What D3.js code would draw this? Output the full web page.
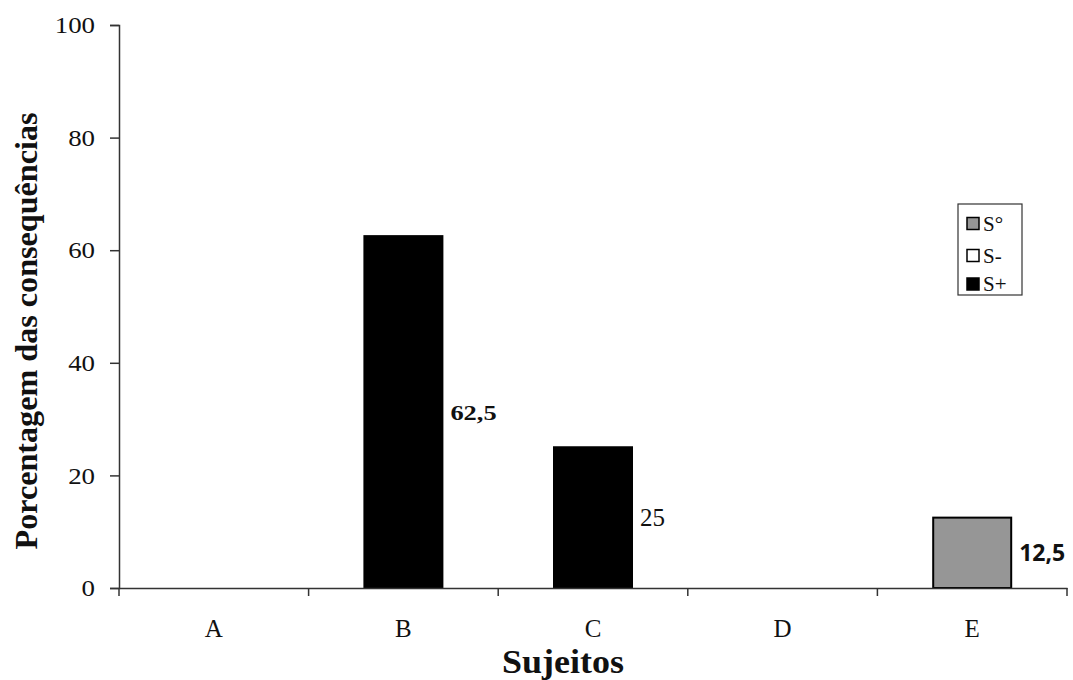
<!DOCTYPE html>
<html><head><meta charset="utf-8">
<script src="https://cdn.jsdelivr.net/npm/d3@7"></script>
<style>body{margin:0;background:#fff}svg{display:block}</style>
</head><body>
<svg id="c" width="1073" height="680"></svg>
<script>
const categories = ["A","B","C","D","E"];
const seriesNames = ["S+","S-","S°"];
const sPlus = [0, 62.5, 25, 0, 0];
const sMinus = [0, 0, 0, 0, 0];
const sZero = [0, 0, 0, 0, 12.5];
const yTicks = [0, 20, 40, 60, 80, 100];
const barLabels = ["", "62,5", "25", "", "12,5"];
const barLabelValues = [0, 62.5, 25, 0, 12.5];
const legendItems = ["S°","S-","S+"];

const svg = d3.select("#c");
const m = {l:119, r:1067, t:25, b:588};
const x = d3.scaleBand().domain(categories).range([m.l, m.r]).paddingInner(0).paddingOuter(0);
const y = d3.scaleLinear().domain([0,100]).range([m.b, m.t]);
const fill = {"S+":"#000000","S-":"#ffffff","S°":"#969696"};
const serif = "'Liberation Serif', 'Times New Roman', serif";
const sans = "'Open Sans', 'DejaVu Sans', sans-serif";
function stretch(sel, k){ sel.each(function(){ const w=this.getComputedTextLength(); d3.select(this).attr("textLength", w*k).attr("lengthAdjust","spacingAndGlyphs"); }); }

const rows = categories.map((c,i)=>({cat:c,"S+":sPlus[i],"S-":sMinus[i],"S°":sZero[i]}));
const stack = d3.stack().keys(seriesNames)(rows);

const bw = 78;
stack.forEach(layer=>{
  svg.append("g").selectAll("rect").data(layer.filter(d=>d[1]-d[0]>0)).join("rect")
    .attr("x", d=>x(d.data.cat)+x.bandwidth()/2-bw/2)
    .attr("y", d=>y(d[1]))
    .attr("width", bw)
    .attr("height", d=>y(d[0])-y(d[1]))
    .attr("fill", fill[layer.key])
    .attr("stroke","#000").attr("stroke-width",2);
});

// axes
const yAx = svg.append("g").attr("transform",`translate(${m.l},0)`)
  .call(d3.axisLeft(y).tickValues(yTicks).tickSize(9).tickPadding(15));
yAx.attr("font-family", null);
yAx.select(".domain").attr("stroke","#333").attr("stroke-width",1.5);
yAx.selectAll(".tick line").attr("stroke","#333").attr("stroke-width",1.5);
yAx.selectAll("text").style("font-family",serif).style("font-size","24px").attr("fill","#111");
stretch(yAx.selectAll("text"), 1.12);

const xAx = svg.append("g").attr("transform",`translate(0,${m.b})`)
  .call(d3.axisBottom(x).tickSize(0).tickPadding(31));
xAx.attr("font-family", null);
xAx.select(".domain").attr("stroke","#333").attr("stroke-width",1.5);
xAx.selectAll("text").style("font-family",serif).style("font-size","25px").attr("fill","#111");
const bounds = categories.map(c=>x(c)).concat([m.r]);
svg.append("g").selectAll("line").data(bounds).join("line")
  .attr("x1",d=>d).attr("x2",d=>d).attr("y1",m.b).attr("y2",m.b+8)
  .attr("stroke","#333").attr("stroke-width",1.5);

// bar value labels
const labStyle = [null,
  {w:"bold", f:serif, s:22, k:1.2},
  {w:"normal", f:serif, s:25, k:1.0},
  null,
  {w:"bold", f:sans, s:23, k:1.0}];
const lab = svg.append("g").selectAll("text")
  .data(categories.map((c,i)=>({c,i})).filter(d=>barLabels[d.i]!=="")).join("text")
  .attr("x", d=>x(d.c)+x.bandwidth()/2+bw/2+8)
  .attr("y", d=>y(barLabelValues[d.i]/2))
  .attr("dy","0.35em")
  .style("font-family", d=>labStyle[d.i].f)
  .style("font-weight", d=>labStyle[d.i].w)
  .style("font-size", d=>labStyle[d.i].s+"px")
  .attr("fill","#111")
  .text(d=>barLabels[d.i]);
lab.each(function(d){ const k=labStyle[d.i].k; if(k!==1){ stretch(d3.select(this),k);} });

// titles
svg.append("text").attr("x",563).attr("y",673).attr("text-anchor","middle")
  .style("font-family",serif).style("font-weight","bold").style("font-size","33px").attr("fill","#111")
  .attr("textLength",122).attr("lengthAdjust","spacingAndGlyphs").text("Sujeitos");
svg.append("text").attr("transform",`translate(37,331) rotate(-90)`)
  .attr("text-anchor","middle").style("font-family",serif).style("font-weight","bold").style("font-size","32px").attr("fill","#111")
  .attr("textLength",437).attr("lengthAdjust","spacingAndGlyphs")
  .text("Porcentagem das consequências");

// legend
const legY = [223.5, 255.5, 284];
const lg = svg.append("g");
lg.append("rect").attr("x",958).attr("y",204).attr("width",64).attr("height",91)
  .attr("fill","#fff").attr("stroke","#333").attr("stroke-width",1.2);
legendItems.forEach((k,i)=>{
  const cy = legY[i];
  lg.append("rect").attr("x",967).attr("y",cy-6).attr("width",12).attr("height",12)
    .attr("fill",fill[k]).attr("stroke","#000").attr("stroke-width",1.5);
  lg.append("text").attr("x",983).attr("y",cy).attr("dy","0.35em")
    .style("font-family",serif).style("font-size","21px").attr("fill","#111").text(k);
});
</script>
</body></html>
